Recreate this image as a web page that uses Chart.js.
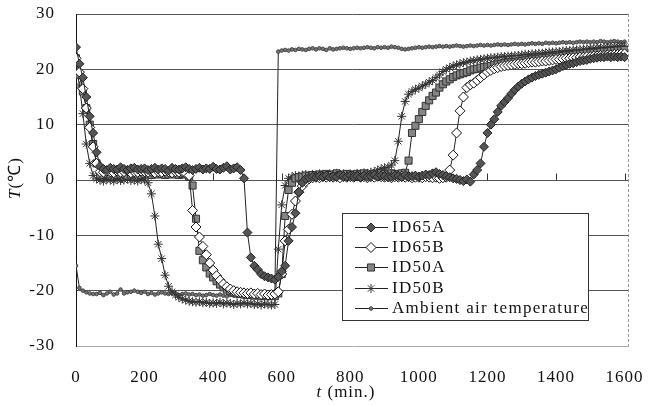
<!DOCTYPE html>
<html>
<head>
<meta charset="utf-8">
<script src="https://cdn.jsdelivr.net/npm/chart.js@4/dist/chart.umd.min.js"></script>
<style>
  html, body { margin: 0; padding: 0; background: #fff; }
  #wrap { width: 650px; height: 407px; }
</style>
</head>
<body>
<div id="wrap"><canvas id="c" width="650" height="407"></canvas></div>
<script>
// time (min.), one reading every 10 min
const times = [
  0, 10, 20, 30, 40, 50, 60, 70, 80, 90,
  100, 110, 120, 130, 140, 150, 160, 170, 180, 190,
  200, 210, 220, 230, 240, 250, 260, 270, 280, 290,
  300, 310, 320, 330, 340, 350, 360, 370, 380, 390,
  400, 410, 420, 430, 440, 450, 460, 470, 480, 490,
  500, 510, 520, 530, 540, 550, 560, 570, 580, 590,
  600, 610, 620, 630, 640, 650, 660, 670, 680, 690,
  700, 710, 720, 730, 740, 750, 760, 770, 780, 790,
  800, 810, 820, 830, 840, 850, 860, 870, 880, 890,
  900, 910, 920, 930, 940, 950, 960, 970, 980, 990,
  1000, 1010, 1020, 1030, 1040, 1050, 1060, 1070, 1080, 1090,
  1100, 1110, 1120, 1130, 1140, 1150, 1160, 1170, 1180, 1190,
  1200, 1210, 1220, 1230, 1240, 1250, 1260, 1270, 1280, 1290,
  1300, 1310, 1320, 1330, 1340, 1350, 1360, 1370, 1380, 1390,
  1400, 1410, 1420, 1430, 1440, 1450, 1460, 1470, 1480, 1490,
  1500, 1510, 1520, 1530, 1540, 1550, 1560, 1570, 1580, 1590,
  1600
];

const id65A = [
  24, 21, 18.5, 15, 11.5, 8.5, 5, 2.5, 2.0, 1.8,
  2.2, 2.0, 1.9, 2.3, 2.0, 1.8, 2.1, 2.2, 1.9, 2.0,
  2.1, 1.8, 2.0, 2.2, 1.9, 2.1, 2.0, 1.7, 2.2, 2.0,
  1.9, 2.1, 2.3, 2.0, 1.8, 2.0, 2.2, 1.9, 2.1, 2.0,
  2.4, 2.0, 1.9, 2.2, 2.5, 1.9, 2.1, 2.3, 1.8, 0.3,
  -9.5, -14, -15.5, -16.2, -17, -17.4, -17.6, -17.8, -18, -17.5,
  -16.5, -15.5, -11, -8.5, -6, -2.2, -0.5, 0.2, 0.4, 0.6,
  0.5, 0.7, 0.6, 0.8, 0.5, 0.7, 0.6, 0.9, 0.7, 0.6,
  0.8, 0.6, 0.7, 0.5, 0.8, 0.6, 0.7, 0.9, 0.6, 0.8,
  0.7, 0.5, 0.6, 0.8, 0.7, 0.5, 0.9, 0.6, 0.7, 0.8,
  0.6, 0.8, 1.0, 0.9, 1.2, 1.4, 1.1, 0.9, 0.7, 0.5,
  0.3, 0.2, 0.0, -0.2, 0.1, -0.3, 1.0, 1.8, 3.0, 6.0,
  8.5, 10.0, 11.0, 12.3, 13.4, 14.1, 14.8, 15.6, 16.3, 16.9,
  17.4, 17.8, 18.2, 18.5, 18.8, 19.0, 19.2, 19.4, 19.6, 19.8,
  20.0, 20.3, 20.6, 20.8, 21.0, 21.1, 21.3, 21.5, 21.6, 21.7,
  21.9, 22.0, 22.1, 22.2, 22.2, 22.3, 22.2, 22.3, 22.2, 22.3,
  22.2
];

const id65B = [
  22, 19.5, 16.5, 13, 9.5, 6, 3, 1.5, 1.4, 1.6,
  1.5, 1.3, 1.6, 1.4, 1.5, 1.7, 1.3, 1.5, 1.4, 1.6,
  1.5, 1.4, 1.6, 1.3, 1.5, 1.4, 1.6, 1.5, 1.3, 1.5,
  1.4, 1.5, 1.2, 0.8, -5.5, -8.5, -10.3, -12, -13.5, -15,
  -16.3, -17.3, -18.1, -18.8, -19.3, -19.7, -20, -20.2, -20.3, -20.4,
  -20.5, -20.4, -20.6, -20.5, -20.7, -20.6, -20.8, -20.7, -20.6, -20.2,
  -17, -11, -8.9, -6.2, -3.8, -2.2, -1.1, -0.3, 0.2, 0.4,
  0.5, 0.4, 0.6, 0.5, 0.7, 0.5, 0.6, 0.4, 0.6, 0.5,
  0.6, 0.5, 0.7, 0.5, 0.6, 0.4, 0.6, 0.5, 0.7, 0.6,
  0.5, 0.6, 0.4, 0.6, 0.5, 0.7, 0.5, 0.6, 0.4, 0.5,
  0.5, 0.4, 0.6, 0.5, 0.4, 0.5, 0.3, 0.4, 0.5, 1.8,
  4.5, 8.5, 12.5, 15.0, 16.7, 17.2, 17.5, 18.0, 18.5, 19.0,
  19.5, 19.8, 20.1, 20.3, 20.5, 20.6, 20.7, 20.8, 20.9, 21.0,
  21.0, 21.1, 21.2, 21.3, 21.3, 21.4, 21.5, 21.5, 21.6, 21.7,
  21.8, 21.8, 21.9, 22.0, 22.0, 22.1, 22.1, 22.2, 22.2, 22.3,
  22.3, 22.4, 22.4, 22.5, 22.5, 22.6, 22.6, 22.7, 22.7, 22.8,
  22.8
];

const id50A = [
  22, 19, 16, 13, 10, 6.5, 3, 1.0, 0.9, 1.1,
  1.0, 1.2, 0.9, 1.0, 1.1, 0.8, 1.0, 1.2, 1.0, 0.9,
  1.1, 1.0, 0.9, 1.2, 1.0, 1.1, 0.9, 1.0, 1.2, 1.0,
  0.9, 1.1, 1.0, 0.6, -1.0, -7.0, -12.8, -14.5, -15.8, -16.9,
  -17.6, -18.3, -18.9, -19.4, -19.8, -20.1, -20.3, -20.5, -20.6, -20.7,
  -20.8, -20.7, -20.9, -20.8, -21.0, -20.9, -21.0, -20.9, -21.0, -20.5,
  -17, -6.5, -1.8, -0.5, 0.3, 0.5, 0.6, 0.8, 0.7, 0.9,
  0.8, 1.0, 0.9, 1.1, 0.9, 1.0, 1.2, 0.9, 1.0, 1.1,
  1.0, 0.9, 1.1, 1.0, 1.2, 1.0, 0.9, 1.1, 1.0, 1.2,
  1.1, 1.0, 1.2, 1.1, 1.0, 1.2, 1.3, 3.5, 8.5, 9.8,
  11.0, 12.3, 13.4, 14.4, 15.2, 15.8, 16.7, 17.3, 17.8, 18.2,
  18.6, 18.9, 19.1, 19.3, 19.5, 19.8, 20.0, 20.1, 20.3, 20.4,
  20.5, 20.6, 20.8, 20.9, 21.0, 21.1, 21.2, 21.3, 21.3, 21.4,
  21.5, 21.6, 21.7, 21.8, 21.8, 21.9, 22.0, 22.0, 22.1, 22.2,
  22.2, 22.3, 22.4, 22.5, 22.5, 22.6, 22.7, 22.7, 22.8, 22.9,
  22.9, 23.0, 23.0, 23.1, 23.2, 23.2, 23.3, 23.3, 23.4, 23.4,
  23.5
];

const id50B = [
  21, 17, 12, 6.5, 3, 0.8, 0.2, 0, -0.2, 0.1,
  0, -0.2, 0.1, -0.1, 0, 0.2, -0.1, 0, -0.2, 0.1,
  0, -0.5, -2.5, -6.5, -11.6, -14.2, -17.2, -19.2, -20.2, -20.8,
  -21.2, -21.5, -21.7, -21.9, -22.0, -22.1, -22.0, -22.2, -22.1, -22.3,
  -22.2, -22.3, -22.1, -22.4, -22.2, -22.3, -22.5, -22.3, -22.4, -22.2,
  -22.4, -22.3, -22.5, -22.4, -22.6, -22.4, -22.5, -22.6, -22.5, -12.5,
  -4.5, -1.0, 0.3, 0.6, 0.8, 0.7, 0.9, 1.0, 0.8, 1.0,
  0.9, 1.1, 1.0, 0.9, 1.1, 1.0, 1.2, 1.0, 1.1, 0.9,
  1.1, 1.0, 1.2, 1.1, 1.3, 1.2, 1.4, 1.5, 1.8, 2.0,
  2.2, 2.3, 2.7, 3.5, 7.0, 11.5, 14.2, 15.5, 16.0, 16.4,
  16.6, 17.0, 17.3, 17.7, 18.0, 18.5, 19.0, 19.6, 20.0, 20.3,
  20.6, 20.8, 21.0, 21.2, 21.3, 21.5, 21.6, 21.7, 21.8, 21.9,
  22.0, 22.1, 22.1, 22.2, 22.3, 22.3, 22.4, 22.4, 22.5, 22.5,
  22.6, 22.7, 22.7, 22.8, 22.8, 22.9, 22.9, 23.0, 23.1, 23.1,
  23.2, 23.2, 23.3, 23.4, 23.4, 23.5, 23.5, 23.6, 23.6, 23.7,
  23.8, 23.8, 23.9, 23.9, 24.0, 24.0, 24.1, 24.1, 24.2, 24.2,
  24.2
];

const ambient = [
  -15.5, -19.5, -20.0, -20.3, -20.5, -20.6, -20.6, -20.4, -20.8, -20.5,
  -20.2, -20.7, -20.5, -19.8, -20.5, -20.3, -20.2, -20.0, -20.2, -20.4,
  -20.2, -20.6, -20.4, -20.7, -20.5, -20.3, -20.5, -20.6, -20.4, -20.5,
  -20.8, -20.6, -20.5, -20.7, -20.6, -20.8, -20.7, -20.9, -20.8, -20.6,
  -20.8, -20.9, -20.7, -20.9, -21.0, -20.8, -20.9, -21.0, -20.9, -21.1,
  -21.0, -20.9, -21.1, -21.0, -21.2, -21.0, -21.1, -21.2, -21.0, 23.2,
  23.4, 23.5, 23.4, 23.6, 23.5, 23.7, 23.6, 23.5, 23.7, 23.8,
  23.6, 23.8, 23.7, 23.5, 23.8, 23.6, 23.7, 23.8, 23.9, 23.8,
  23.7, 23.8, 23.9, 23.8, 23.9, 24.0, 23.9, 23.8, 24.0, 23.9,
  24.0, 23.9, 24.1, 24.0, 23.9, 23.7, 23.6, 23.7, 23.8, 23.9,
  24.0, 23.9, 24.0, 24.1, 24.0, 24.1, 24.2, 24.1, 24.2, 24.1,
  24.2, 24.3, 24.2, 24.1, 24.2, 24.3, 24.2, 24.3, 24.4, 24.3,
  24.4, 24.3, 24.4, 24.5, 24.4, 24.5, 24.4, 24.5, 24.6, 24.5,
  24.6, 24.5, 24.6, 24.7, 24.6, 24.7, 24.6, 24.8, 24.7, 24.8,
  24.7, 24.8, 24.9, 24.8, 24.9, 24.8, 24.9, 25.0, 24.9, 25.0,
  24.9, 25.0, 24.9, 25.1, 25.0, 24.9, 25.0, 25.1, 25.0, 24.9,
  25.0
];

const seriesNames = ['ID65A', 'ID65B', 'ID50A', 'ID50B', 'Ambient air temperature'];
const xTicks = [0, 200, 400, 600, 800, 1000, 1200, 1400, 1600];
const yTicks = [-30, -20, -10, 0, 10, 20, 30];

const FONT = "'Liberation Serif', 'Times New Roman', serif";

const pts = arr => arr.map((v, i) => ({ x: times[i], y: v }));

const styles = [
  { pointStyle: 'rectRot', pointRadius: 4.5, pointBackgroundColor: '#555', pointBorderColor: '#222' },
  { pointStyle: 'rectRot', pointRadius: 5, pointBackgroundColor: '#fff', pointBorderColor: '#111' },
  { pointStyle: 'rect', pointRadius: 5, pointBackgroundColor: '#858585', pointBorderColor: '#333' },
  { pointStyle: 'star', pointRadius: 4.5, pointBackgroundColor: '#333', pointBorderColor: '#333' },
  { pointStyle: 'circle', pointRadius: 1.8, pointBackgroundColor: '#777', pointBorderColor: '#444' }
];

const values = [id65A, id65B, id50A, id50B, ambient];

const datasets = values.map((arr, i) => ({
  label: seriesNames[i],
  data: pts(arr),
  borderColor: '#222',
  borderWidth: 1,
  pointBorderWidth: 1,
  ...styles[i]
}));

// legend box inside the plot, tick marks on the zero line, axis titles
const extras = {
  id: 'extras',
  beforeDraw(chart) {
    chart.ctx.letterSpacing = '1px';
  },
  afterDatasetsDraw(chart) {
    const ctx = chart.ctx;
    const ca = chart.chartArea;
    const xs = chart.scales.x, ys = chart.scales.y;
    ctx.save();
    // right border, dotted
    ctx.strokeStyle = '#999';
    ctx.lineWidth = 1;
    ctx.setLineDash([3, 2]);
    ctx.beginPath();
    ctx.moveTo(Math.round(ca.right) + 0.5, ca.top);
    ctx.lineTo(Math.round(ca.right) + 0.5, ca.bottom);
    ctx.stroke();
    ctx.setLineDash([]);
    // tick marks pointing up from the zero line
    const y0 = Math.round(ys.getPixelForValue(0)) + 0.5;
    ctx.strokeStyle = '#333';
    xTicks.forEach(v => {
      if (v === 0) return;
      const px = Math.round(xs.getPixelForValue(v)) + 0.5;
      ctx.beginPath();
      ctx.moveTo(px, y0);
      ctx.lineTo(px, y0 - 7);
      ctx.stroke();
    });

    // legend
    const bx = 342.5, by = 213.5, bw = 246, bh = 107;
    ctx.fillStyle = '#fff';
    ctx.fillRect(bx, by, bw, bh);
    ctx.strokeStyle = '#333';
    ctx.strokeRect(bx, by, bw, bh);
    const rowY = [227, 247, 267, 288, 308];
    ctx.font = '17px ' + FONT;
    ctx.letterSpacing = '1.3px';
    ctx.textBaseline = 'middle';
    ctx.textAlign = 'left';
    datasets.forEach((ds, i) => {
      const y = rowY[i] + 0.5;
      ctx.strokeStyle = '#222';
      ctx.lineWidth = 1;
      ctx.beginPath();
      ctx.moveTo(355, y);
      ctx.lineTo(388, y);
      ctx.stroke();
      ctx.fillStyle = ds.pointBackgroundColor;
      ctx.strokeStyle = ds.pointBorderColor;
      Chart.helpers.drawPoint(ctx, {
        pointStyle: ds.pointStyle,
        radius: ds.pointRadius,
        rotation: 0,
        borderWidth: 1
      }, 371, y);
      ctx.fillStyle = '#111';
      ctx.fillText(ds.label, 392, rowY[i] + 1);
    });

    // axis titles
    ctx.fillStyle = '#111';
    ctx.letterSpacing = '1px';
    ctx.textBaseline = 'middle';
    const it = 'italic 17px ' + FONT, nm = '17px ' + FONT;
    // x title
    ctx.font = it;
    const w1 = ctx.measureText('t').width;
    ctx.font = nm;
    const w2 = ctx.measureText(' (min.)').width;
    let sx = 346 - (w1 + w2) / 2;
    ctx.font = it; ctx.fillText('t', sx, 393);
    ctx.font = nm; ctx.fillText(' (min.)', sx + w1, 393);
    // y title
    ctx.translate(16, 178);
    ctx.rotate(-Math.PI / 2);
    ctx.font = it;
    const v1 = ctx.measureText('T').width;
    ctx.font = nm;
    const v2 = ctx.measureText('(℃)').width;
    sx = -(v1 + v2) / 2;
    ctx.font = it; ctx.fillText('T', sx, 0);
    ctx.font = nm; ctx.fillText('(℃)', sx + v1, 0);
    ctx.restore();
  }
};

new Chart(document.getElementById('c'), {
  type: 'line',
  data: { datasets },
  plugins: [extras],
  options: {
    responsive: false,
    animation: false,
    devicePixelRatio: 1,
    layout: { padding: { left: 0, top: 14, right: 22, bottom: 0 } },
    plugins: { legend: { display: false }, tooltip: { enabled: false } },
    scales: {
      x: {
        type: 'linear',
        min: 0,
        max: 1610,
        afterBuildTicks: s => { s.ticks = xTicks.map(v => ({ value: v })); },
        afterFit: s => { s.height = 61; s.paddingLeft = 0; s.paddingRight = 0; },
        grid: { display: false, drawTicks: false },
        border: { display: true, color: '#aaa', width: 1, dash: [4, 3] },
        ticks: {
          padding: 21,
          maxRotation: 0,
          color: '#111',
          font: { family: FONT, size: 17 },
          callback: v => String(v)
        }
      },
      y: {
        min: -30,
        max: 30,
        afterBuildTicks: s => { s.ticks = yTicks.map(v => ({ value: v })); },
        afterFit: s => { s.width = 76; s.paddingTop = 0; s.paddingBottom = 0; },
        grid: {
          drawTicks: false,
          color: c => (c.tick && c.tick.value === -30) ? 'rgba(0,0,0,0)' : '#555',
          lineWidth: 1
        },
        border: { display: true, color: '#111', width: 1 },
        ticks: {
          padding: 21,
          color: '#111',
          font: { family: FONT, size: 17 },
          callback: v => String(v)
        }
      }
    }
  }
});
</script>
</body>
</html>
